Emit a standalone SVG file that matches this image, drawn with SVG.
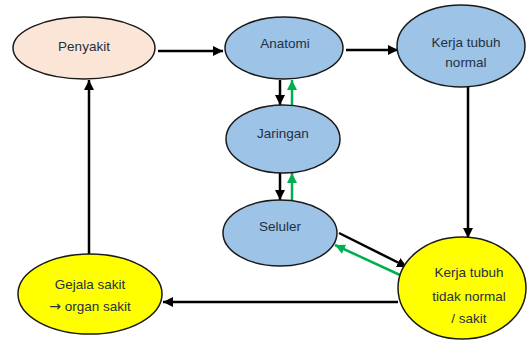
<svg xmlns="http://www.w3.org/2000/svg" width="531" height="340" viewBox="0 0 531 340">
<defs>
<marker id="ab" viewBox="0 0 10 10" refX="10" refY="5" markerWidth="4" markerHeight="4" orient="auto" markerUnits="strokeWidth"><path d="M0,0 L10,5 L0,10 z" fill="#000"/></marker>
<marker id="ag" viewBox="0 0 10 10" refX="10" refY="5" markerWidth="4" markerHeight="4" orient="auto" markerUnits="strokeWidth"><path d="M0,0 L10,5 L0,10 z" fill="#00B050"/></marker>
</defs>
<style>
.n{stroke:#1a1a1a;stroke-width:1.5}
.blue{fill:#9DC3E6}
.peach{fill:#FBE5D6}
.yel{fill:#FFFF00}
text{font-family:"Liberation Sans",Arial,sans-serif;font-size:13.5px;fill:#243043;text-anchor:middle;dominant-baseline:middle}
.arr{font-family:"DejaVu Sans",sans-serif;font-size:14px}
.k{fill:none;stroke:#000;stroke-width:2.5;marker-end:url(#ab)}
.g{fill:none;stroke:#00B050;stroke-width:2.5;marker-end:url(#ag)}
</style>
<rect width="531" height="340" fill="#fff"/>
<g id="connectors">
<line class="k" x1="158" y1="51" x2="223" y2="51"/>
<line class="k" x1="346" y1="50" x2="398" y2="50"/>
<line class="k" x1="280" y1="80" x2="280" y2="105"/>
<line class="g" x1="292" y1="105" x2="292" y2="80"/>
<line class="k" x1="280" y1="173" x2="280" y2="200"/>
<line class="g" x1="292" y1="200" x2="292" y2="173"/>
<line class="k" x1="468" y1="87" x2="468" y2="238"/>
<line class="k" x1="339" y1="233" x2="407" y2="267"/>
<line class="g" x1="400" y1="275" x2="335" y2="245"/>
<line class="k" x1="398" y1="302" x2="163" y2="302"/>
<line class="k" x1="89" y1="254" x2="89" y2="80"/>
</g>
<g id="penyakit">
<ellipse class="n peach" cx="84" cy="48" rx="71" ry="31"/>
<text x="84" y="47">Penyakit</text>
</g>
<g id="anatomi">
<ellipse class="n blue" cx="284" cy="48" rx="59" ry="31"/>
<text x="285" y="44">Anatomi</text>
</g>
<g id="kerja-normal">
<ellipse class="n blue" cx="461" cy="46" rx="64" ry="41"/>
<text x="466" y="43">Kerja tubuh</text>
<text x="466" y="63">normal</text>
</g>
<g id="jaringan">
<ellipse class="n blue" cx="283" cy="139" rx="57" ry="34"/>
<text x="283" y="134">Jaringan</text>
</g>
<g id="seluler">
<ellipse class="n blue" cx="280" cy="233" rx="57" ry="33"/>
<text x="280" y="227">Seluler</text>
</g>
<g id="kerja-tidak-normal">
<ellipse class="n yel" cx="462" cy="288" rx="64" ry="51"/>
<text x="469" y="273">Kerja tubuh</text>
<text x="469" y="297">tidak normal</text>
<text x="469" y="319">/ sakit</text>
</g>
<g id="gejala">
<ellipse class="n yel" cx="90" cy="294" rx="72" ry="40"/>
<text x="90" y="285">Gejala sakit</text>
<text x="90" y="307"><tspan class="arr">→</tspan> organ sakit</text>
</g>
</svg>
